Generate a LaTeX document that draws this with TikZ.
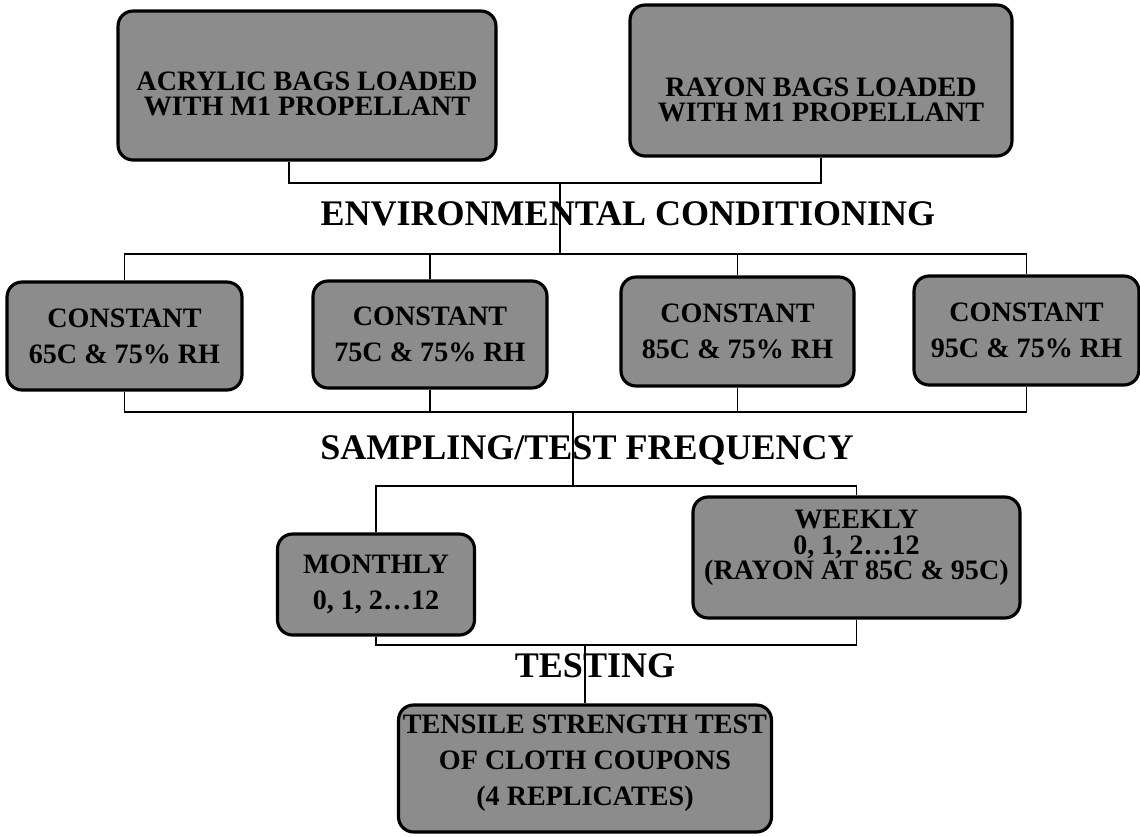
\documentclass[tikz,border=0pt]{standalone}
\usepackage{fontspec}
\setmainfont{Liberation Serif}
\begin{document}
\begin{tikzpicture}[x=0.02cm,y=-0.02cm,
		loose/.style={align=center,font=\bfseries\fontsize{16}{20.5}\selectfont},
		tight/.style={align=center,font=\bfseries\fontsize{16}{14.6}\selectfont},
		box/.style={draw,line width=1.8pt,rounded corners=0.3cm,fill=black!45,inner sep=0pt,loose},
		title/.style={anchor=base,font=\bfseries\fontsize{20.5}{24}\selectfont},
		link/.style={line width=0.9pt}]
				\useasboundingbox (0,0) rectangle (1140,836);
				% bags
				\node[box,minimum width=7.56cm,minimum height=2.98cm] (acry) at (307,85.5) {};
				\node[tight] (acryt) at (307,94) {ACRYLIC BAGS LOADED\\WITH M1 PROPELLANT};
				\node[box,minimum width=7.64cm,minimum height=3.02cm] (rayon) at (821,80.5) {};
				\node[tight] (rayont) at (821,100) {RAYON BAGS LOADED\\WITH M1 PROPELLANT};
				% conditions
				\node[box,minimum width=4.7cm,minimum height=2.16cm] (c65) at (124.5,336) {CONSTANT\\65C \& 75\% RH};
				\node[box,minimum width=4.68cm,minimum height=2.14cm] (c75) at (430,334.5) {CONSTANT\\75C \& 75\% RH};
				\node[box,minimum width=4.66cm,minimum height=2.18cm] (c85) at (737.5,331.5) {CONSTANT\\85C \& 75\% RH};
				\node[box,minimum width=4.5cm,minimum height=2.18cm] (c95) at (1026.5,330.5) {CONSTANT\\95C \& 75\% RH};
				% frequency
				\node[box,minimum width=3.94cm,minimum height=2.02cm] (month) at (376,584.5) {MONTHLY\\0, 1, 2\ldots12};
				\node[box,minimum width=6.54cm,minimum height=2.42cm] (week) at (856.5,557.5) {};
				\node[tight] (weekt) at (856.5,548) {WEEKLY\\0, 1, 2\ldots12\\(RAYON AT 85C \& 95C)};
				% test
				\node[box,minimum width=7.46cm,minimum height=2.54cm] (tens) at (585,768.5) {};
				\node[loose] (tenst) at (585,763) {TENSILE STRENGTH TEST\\OF CLOTH COUPONS\\(4 REPLICATES)};
				\node[title] (env) at (628,225) {ENVIRONMENTAL CONDITIONING};
				\node[title] (samp) at (587,459) {SAMPLING/TEST FREQUENCY};
				\node[title] (test) at (595,677) {TESTING};
				\coordinate (J1) at (560,183);
				\coordinate (J2) at (560,254);
				\coordinate (J3) at (573,412);
				\coordinate (J4) at (573,486);
				\coordinate (J5) at (585,645);
				\draw[link] ([xshift=-0.36cm]acry.south) |- (J1) -| (rayon.south);
				\draw[link] (J1) -- (J2);
				\draw[link] (c65.north) |- (J2) -| (c95.north);
				\draw[link] (c75.north) -- (c75.north |- J2);
				\draw[link] (c85.north) -- (c85.north |- J2);
				\draw[link] (c65.south) |- (J3) -| (c95.south);
				\draw[link] (c75.south) -- (c75.south |- J3);
				\draw[link] (c85.south) -- (c85.south |- J3);
				\draw[link] (J3) -- (J4);
				\draw[link] (month.north) |- (J4) -| (week.north);
				\draw[link] (month.south) |- (J5) -| (week.south);
				\draw[link] (J5) -- (tens.north);
			\end{tikzpicture}
\end{document}
